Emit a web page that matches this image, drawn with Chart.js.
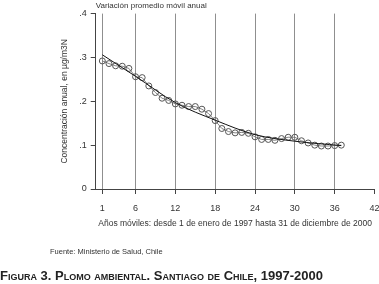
<!DOCTYPE html>
<html>
<head>
<meta charset="utf-8">
<script src="https://cdn.jsdelivr.net/npm/chart.js@4/dist/chart.umd.min.js"></script>
<style>
  html, body { margin: 0; padding: 0; background: #fff; }
  #wrap { position: relative; width: 379px; height: 284px; overflow: hidden; }
  #graph { position: absolute; left: 0; top: 0; }
  .fuente { position: absolute; left: 50px; top: 247px; font: 7.5px "Liberation Sans", sans-serif; color: #333; }
  .figura { position: absolute; left: 0px; top: 268px; font: bold 13px "Liberation Sans", sans-serif; font-variant: small-caps; color: #222; }
</style>
</head>
<body>
<div id="wrap">
  <!-- canvas a bit wider than the page: the x axis reserves room right of "42" -->
  <canvas id="graph" width="389" height="284"></canvas>
  <div class="fuente">Fuente: Ministerio de Salud, Chile</div>
  <div class="figura">Figura 3. Plomo ambiental. Santiago de Chile, 1997-2000</div>
</div>
<script>
// moving average, one point per moving year
const meses = [1, 2, 3, 4, 5, 6, 7, 8, 9, 10, 11, 12, 13, 14, 15, 16, 17, 18, 19,
    20, 21, 22, 23, 24, 25, 26, 27, 28, 29, 30, 31, 32, 33, 34, 35, 36, 37];
const concentracion = [0.292, 0.286, 0.281, 0.280, 0.275, 0.256, 0.254, 0.235, 0.220, 0.207,
    0.202, 0.194, 0.191, 0.188, 0.188, 0.182, 0.172, 0.156, 0.138, 0.131,
    0.128, 0.129, 0.127, 0.119, 0.113, 0.113, 0.111, 0.115, 0.118, 0.118,
    0.110, 0.105, 0.100, 0.098, 0.098, 0.099, 0.100];

// fitted trend
const ajusteX = [1, 6, 12, 18, 24, 30, 37];
const ajusteY = [0.306, 0.257, 0.197, 0.157, 0.124, 0.109, 0.099];

const xTicks = [1, 6, 12, 18, 24, 30, 36, 42];
const yTicks = [0, 0.1, 0.2, 0.3, 0.4];
const yLabels = ['0', '.1', '.2', '.3', '.4'];

const ctx = document.getElementById('graph').getContext('2d');

const puntos = meses.map((m, i) => {
    return { x: m, y: concentracion[i] };
});
const ajuste = ajusteX.map((m, i) => {
    return { x: m, y: ajusteY[i] };
});

const font = { family: 'Liberation Sans', size: 9 };

const chart = new Chart(ctx, {
    type: 'line',
    data: {
        datasets: [{
            data: ajuste,
            borderColor: '#111',
            borderWidth: 1,
            pointRadius: 0,
            cubicInterpolationMode: 'monotone',
            fill: false
        }, {
            data: puntos,
            borderColor: '#666',
            borderWidth: 0.8,
            pointRadius: 3,
            pointBorderWidth: 1,
            pointBorderColor: '#555',
            pointBackgroundColor: 'rgba(255,255,255,0)',
            tension: 0,
            fill: false
        }]
    },
    options: {
        responsive: false,
        animation: false,
        layout: { padding: { left: 60, right: 0, top: 0, bottom: 55.5 } },
        plugins: {
            legend: { display: false },
            tooltip: { enabled: false },
            title: {
                display: true,
                text: 'Variación promedio móvil anual',
                align: 'start',
                fullSize: false,
                color: '#333',
                font: { family: 'Liberation Sans', size: 8, weight: 'normal' },
                padding: { top: 1, bottom: 3 }
            }
        },
        scales: {
            x: {
                type: 'linear',
                min: 0,
                max: 42,
                afterBuildTicks: (axis) => {
                    axis.ticks = xTicks.map((v) => ({ value: v }));
                },
                ticks: {
                    color: '#333',
                    font: font,
                    padding: 9.5,
                    maxRotation: 0,
                    autoSkip: false
                },
                grid: {
                    color: (c) => (c.tick && c.tick.value === 42 ? 'rgba(0,0,0,0)' : '#8f8f8f'),
                    tickColor: '#444',
                    tickLength: 5,
                    lineWidth: 1
                },
                border: { color: '#444', width: 1 },
                title: {
                    display: true,
                    text: 'Años móviles: desde 1 de enero de 1997 hasta 31 de diciembre de 2000',
                    color: '#333',
                    font: { family: 'Liberation Sans', size: 8.5 },
                    padding: { top: -5.5, bottom: 0 }
                }
            },
            y: {
                min: 0,
                max: 0.4,
                afterBuildTicks: (axis) => {
                    axis.ticks = yTicks.map((v) => ({ value: v }));
                },
                ticks: {
                    color: '#333',
                    font: font,
                    padding: 4,
                    callback: (v, i) => yLabels[i]
                },
                grid: {
                    drawOnChartArea: false,
                    tickColor: '#444',
                    tickLength: 5
                },
                border: { color: '#444', width: 1 },
                title: {
                    display: true,
                    text: 'Concentración anual, en µg/m3N',
                    color: '#333',
                    font: { family: 'Liberation Sans', size: 8.5 },
                    padding: { top: 0, bottom: 5 }
                }
            }
        }
    }
});
</script>
</body>
</html>
